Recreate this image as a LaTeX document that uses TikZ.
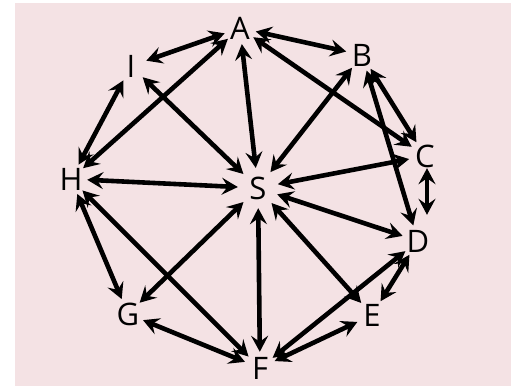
\documentclass[tikz,border=0pt]{standalone}
\usepackage{fontspec}
\setmainfont{Open Sans}
\usetikzlibrary{arrows.meta}
\definecolor{bgpink}{RGB}{244,226,228}
\tikzset{
  vert/.style={circle, inner sep=0pt, minimum size=32pt, font=\fontsize{31}{31}\selectfont},
  hub/.style={vert, minimum size=40pt},
  arr/.style={line width=4.6pt, line cap=butt, {Stealth[length=16pt,width=17pt,inset=6pt]}-{Stealth[length=16pt,width=17pt,inset=6pt]}}
}
\begin{document}
\begin{tikzpicture}[x=1pt,y=-1pt]
\useasboundingbox (0,0) rectangle (511,386);
\fill[bgpink] (15,3) rectangle (511,386);
\node[vert] (A) at (240,28) {A};
\node[vert] (B) at (362,55) {B};
\node[vert] (C) at (425,156) {C};
\node[vert] (D) at (418,241) {D};
\node[vert] (E) at (372,315) {E};
\node[vert] (F) at (260,368) {F};
\node[vert] (G) at (128,314) {G};
\node[vert] (H) at (71,179) {H};
\node[vert] (I) at (131,66) {I};
\node[hub] (S) at (258,188) {S};
\draw[arr] (A) -- (I);
\draw[arr] (A) -- (B);
\draw[arr] (A) -- (H);
\draw[arr] (A) -- (S);
\draw[arr] (A) -- (C);
\draw[arr] (B) -- (S);
\draw[arr] (B) -- (C);
\draw[arr] (B) -- (D);
\draw[arr] (C) -- (S);
\draw[arr, shorten <=-4pt, shorten >=10pt] ([xshift=2pt]C.south) -- ([xshift=2pt]C.south |- D.north);
\draw[arr] (D) -- (S);
\draw[arr] (D) -- (E);
\draw[arr] (D) -- (F);
\draw[arr] (E) -- (S);
\draw[arr] (E) -- (F);
\draw[arr] (F) -- (S);
\draw[arr] (F) -- (G);
\draw[arr] (F) -- (H);
\draw[arr] (G) -- (S);
\draw[arr] (G) -- (H);
\draw[arr] (H) -- (S);
\draw[arr] (H) -- (I);
\draw[arr] (I) -- (S);
\end{tikzpicture}
\end{document}
